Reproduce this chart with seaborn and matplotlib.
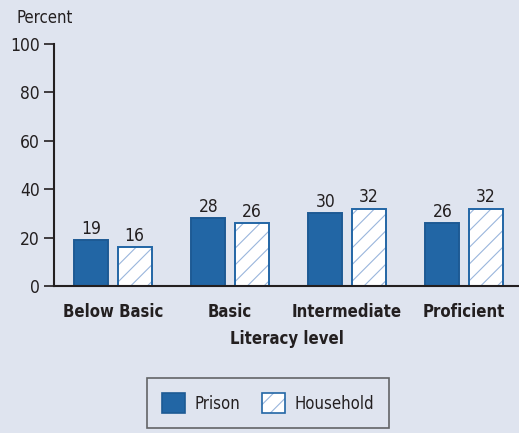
import matplotlib
matplotlib.use("Agg")
import matplotlib.pyplot as plt
import matplotlib.colors as mcolors
from matplotlib import font_manager
from matplotlib.patches import Patch
import seaborn as sns
import pandas as pd

categories = ["Below Basic", "Basic", "Intermediate", "Proficient"]
prison = [19, 28, 30, 26]
household = [16, 26, 32, 32]
series = ["Prison", "Household"]
yticks = [0, 20, 40, 60, 80, 100]

BG = "#dfe4ef"
BLUE = "#2266a5"
EDGE = "#1d5a94"
HATCH = "#9ab6dc"
TXT = "#231f20"

sns.set_theme(style="white")
names = sorted({f.name for f in font_manager.fontManager.ttflist})
fam = [n for n in ["Liberation Sans Narrow", "DejaVu Sans Condensed", "DejaVu Sans"] if n in names]
plt.rcParams['font.family'] = fam + ['DejaVu Sans']
plt.rcParams['font.stretch'] = 'condensed'
plt.rcParams['hatch.linewidth'] = 0.8

df = pd.DataFrame({
    "level": categories * 2,
    "value": prison + household,
    "series": [series[0]] * 4 + [series[1]] * 4,
})

fig = plt.figure(figsize=(5.19, 4.33), dpi=100, facecolor=BG)
ax = fig.add_axes([54/519, 147/433, (519-54)/519, 242/433])
ax.set_facecolor(BG)

sns.barplot(data=df, x="level", y="value", hue="series", order=categories,
            hue_order=series, palette=[BLUE, "white"], width=0.74, gap=0.21,
            ax=ax, legend=False, saturation=1, linewidth=1.4)

n = len(categories)
for i, p in enumerate(ax.patches):
    if i < n:
        p.set_edgecolor(EDGE)
        p.set_facecolor(BLUE)
    else:
        p.set_facecolor("white")
        p.set_edgecolor(BLUE)
        p.set_hatch("//")
        p._hatch_color = mcolors.to_rgba(HATCH)

FS = 12.5
for c in ax.containers:
    ax.bar_label(c, fmt="%d", padding=1.5, fontsize=FS, color=TXT)

ax.set_xlim(-0.504, 3.47)
ax.set_ylim(0, 100)
ax.set_yticks(yticks)
ax.set_yticklabels([str(t) for t in yticks], fontsize=FS, color=TXT)
ax.tick_params(axis="y", left=True, length=7, width=1.2, color=TXT, pad=3)
ax.tick_params(axis="x", bottom=False, pad=6)
for lbl in ax.get_xticklabels():
    lbl.set_fontsize(12)
    lbl.set_fontweight("bold")
    lbl.set_color(TXT)
ax.set_xlabel("Literacy level", fontsize=12, fontweight="bold", color=TXT, labelpad=7)
ax.set_ylabel("")
for s in ["top", "right"]:
    ax.spines[s].set_visible(False)
for s in ["left", "bottom"]:
    ax.spines[s].set_color(TXT)
    ax.spines[s].set_linewidth(1.5)

fig.text(17/519, 1 - 18/433, "Percent", fontsize=12, color=TXT, va="center", ha="left")

h1 = Patch(facecolor=BLUE, edgecolor=EDGE, linewidth=1.2, label=series[0])
h2 = Patch(facecolor="white", edgecolor=BLUE, hatch="//", linewidth=1.2, label=series[1])
h2._hatch_color = mcolors.to_rgba(HATCH)
leg = fig.legend(handles=[h1, h2], loc="upper center", bbox_to_anchor=(268/519, 1 - 378/433),
                 ncol=2, fontsize=12, frameon=True, fancybox=False, handlelength=1.4,
                 handleheight=1.5, handletextpad=0.55, columnspacing=1.3, borderpad=0.9,
                 borderaxespad=0, labelcolor=TXT)
leg.get_frame().set_edgecolor("#444444")
leg.get_frame().set_facecolor(BG)
leg.get_frame().set_linewidth(1.2)

fig.savefig("out.png", dpi=100, facecolor=BG)
